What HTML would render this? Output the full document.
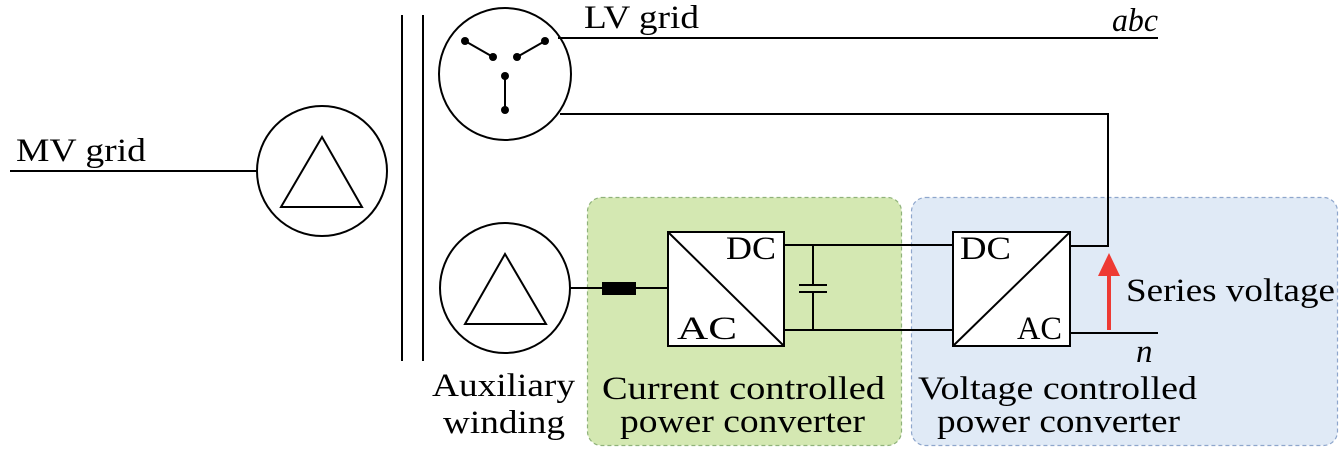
<!DOCTYPE html>
<html><head><meta charset="utf-8"><style>
body{margin:0;background:#fff}
svg text{font-family:"Liberation Serif",serif;font-size:33px;fill:#000}
</style></head><body>
<svg width="1340" height="447" viewBox="0 0 1340 447" xmlns="http://www.w3.org/2000/svg">
<rect x="587.5" y="197.5" width="314" height="248" rx="14" fill="#d4e8b2" stroke="#8fb27a" stroke-width="1.2" stroke-dasharray="4,3"/>
<rect x="911.5" y="197.5" width="426" height="248" rx="14" fill="#e0eaf6" stroke="#8ea6cc" stroke-width="1.2" stroke-dasharray="4,3"/>
<g stroke="#000" stroke-width="2" fill="none">
<line x1="10" y1="171" x2="257" y2="171"/>
<circle cx="322" cy="171" r="65" fill="#fff"/>
<polygon points="322,137 281,207 362,207"/>
<line x1="402" y1="15" x2="402" y2="361"/>
<line x1="423" y1="15" x2="423" y2="361"/>
<circle cx="505" cy="74" r="66" fill="#fff"/>
<line x1="465" y1="41" x2="493" y2="57"/>
<line x1="545" y1="41" x2="517" y2="57"/>
<line x1="505" y1="76" x2="505" y2="110"/>
<line x1="558" y1="38" x2="1158" y2="38"/>
<polyline points="560,114 1108,114 1108,246 1070,246"/>
<circle cx="505" cy="288" r="65" fill="#fff"/>
<polygon points="505,254 465,324 546,324"/>
<line x1="570" y1="288" x2="669" y2="288"/>
<rect x="668" y="232" width="116" height="114" fill="#fff"/>
<line x1="668" y1="232" x2="784" y2="346"/>
<line x1="784" y1="245" x2="953" y2="245"/>
<line x1="784" y1="330" x2="953" y2="330"/>
<line x1="813" y1="245" x2="813" y2="285"/>
<line x1="813" y1="292" x2="813" y2="330"/>
<line x1="799" y1="285" x2="827" y2="285"/>
<line x1="799" y1="292" x2="827" y2="292"/>
<rect x="953" y="232" width="117" height="114" fill="#fff"/>
<line x1="953" y1="346" x2="1070" y2="232"/>
<line x1="1070" y1="333" x2="1158" y2="333"/>
</g>
<g fill="#000">
<circle cx="465" cy="41" r="4"/><circle cx="493" cy="57" r="4"/>
<circle cx="545" cy="41" r="4"/><circle cx="517" cy="57" r="4"/>
<circle cx="505" cy="76" r="4"/><circle cx="505" cy="110" r="4"/>
<rect x="602" y="282" width="34" height="13"/>
</g>
<line x1="1109" y1="330" x2="1109" y2="272" stroke="#ee3a33" stroke-width="4"/>
<polygon points="1109,253 1098,276 1120,276" fill="#ee3a33"/>
<text x="16" y="161" textLength="130" lengthAdjust="spacingAndGlyphs">MV grid</text>
<text x="584" y="28" textLength="115" lengthAdjust="spacingAndGlyphs">LV grid</text>
<text x="1112" y="31" font-style="italic" textLength="46" lengthAdjust="spacingAndGlyphs">abc</text>
<text x="1136" y="362" font-style="italic">n</text>
<text x="726" y="259" textLength="50" lengthAdjust="spacingAndGlyphs">DC</text>
<text x="677" y="339" textLength="60" lengthAdjust="spacingAndGlyphs">AC</text>
<text x="960" y="259" textLength="51" lengthAdjust="spacingAndGlyphs">DC</text>
<text x="1017" y="339" textLength="45" lengthAdjust="spacingAndGlyphs">AC</text>
<text x="1126" y="301" textLength="209" lengthAdjust="spacingAndGlyphs">Series voltage</text>
<text x="432" y="396" textLength="143" lengthAdjust="spacingAndGlyphs">Auxiliary</text>
<text x="443" y="433" textLength="122" lengthAdjust="spacingAndGlyphs">winding</text>
<text x="602" y="399" textLength="283" lengthAdjust="spacingAndGlyphs">Current controlled</text>
<text x="620" y="432" textLength="245" lengthAdjust="spacingAndGlyphs">power converter</text>
<text x="918" y="399" textLength="279" lengthAdjust="spacingAndGlyphs">Voltage controlled</text>
<text x="937" y="432" textLength="243" lengthAdjust="spacingAndGlyphs">power converter</text>
</svg>
</body></html>
